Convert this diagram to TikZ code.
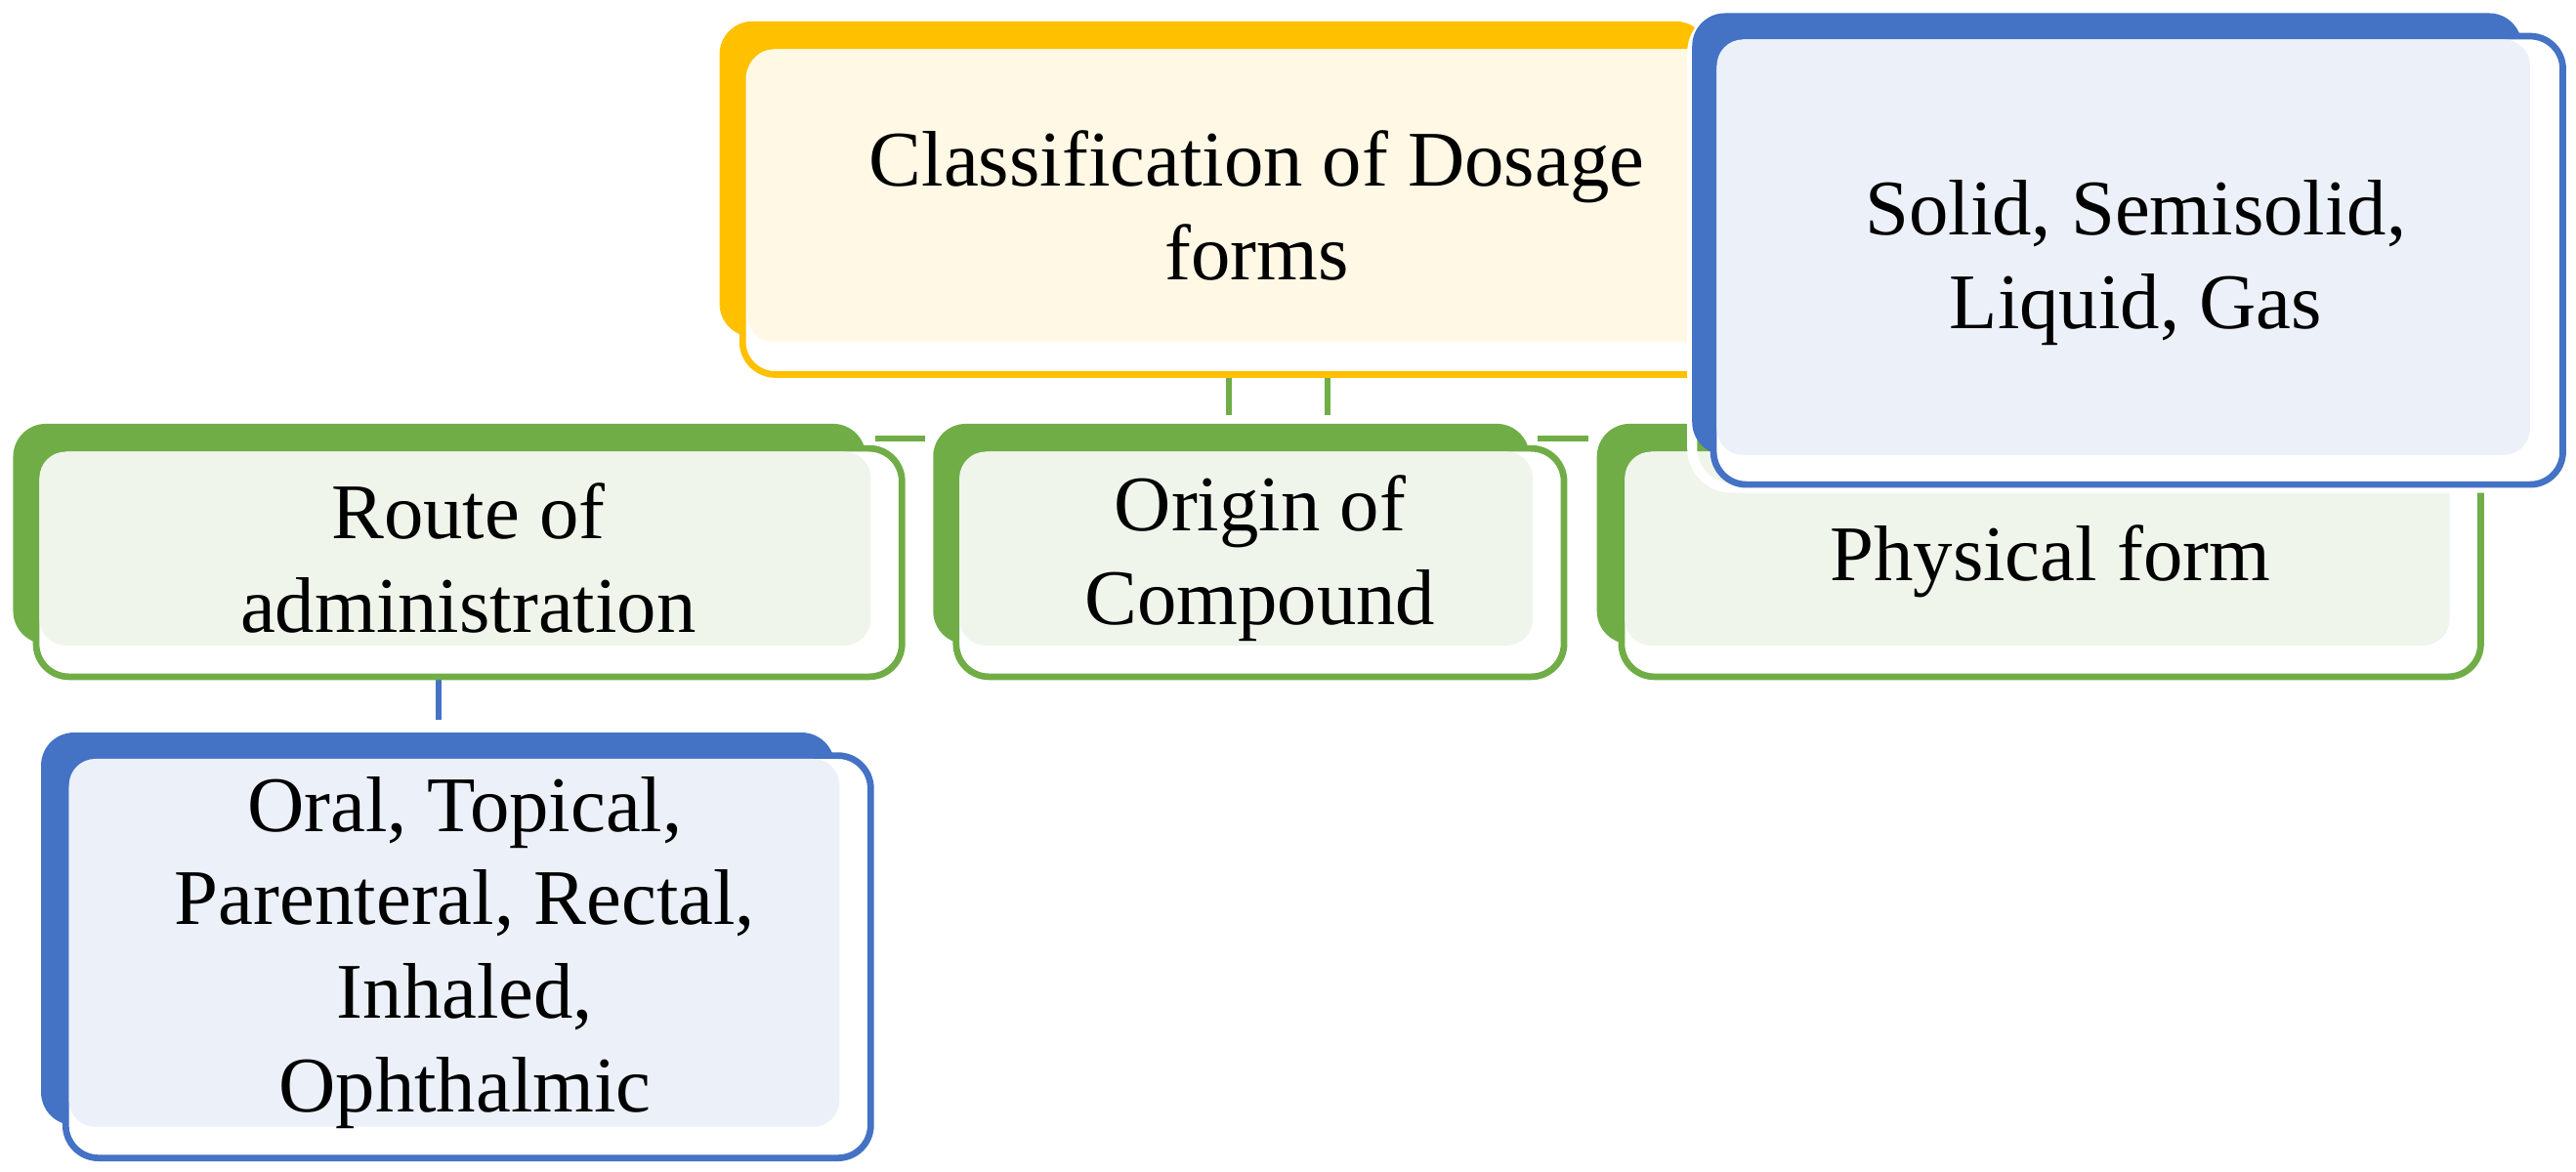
\documentclass[tikz,border=0pt]{standalone}
\usepackage{fontspec}
\setmainfont{Liberation Serif}
\begin{document}
\begin{tikzpicture}[x=1pt,y=-1pt,
  txt/.style={align=center,font=\fontsize{48}{57}\selectfont,text=black},
  conn/.style={line width=4pt}]
\definecolor{yel}{HTML}{FFC000}\definecolor{yelL}{HTML}{FFF8E5}
\definecolor{grn}{HTML}{70AD47}\definecolor{grnL}{HTML}{F0F5EC}
\definecolor{blu}{HTML}{4472C4}\definecolor{bluL}{HTML}{ECF0F9}
\useasboundingbox (0,0) rectangle (1568,713);
\newcommand\mybox[8]{%
  \fill[#1,rounded corners=20pt] (#2) rectangle (#3);
  \draw[#1,fill=white,line width=4pt,rounded corners=20pt] (#4) rectangle (#5);
  \fill[#6,rounded corners=16pt] (#7) rectangle (#8);}
% connectors
\draw[grn,conn] (748,213) -- (748,253) (808,213) -- (808,253);
\draw[grn,conn] (533,267) -- (563,267) (936,267) -- (967,267);
\draw[blu,conn] (267,398) -- (267,438);
% yellow
\mybox{yel}{438,13}{1040,205}{452,28}{1060,228}{yelL}{455,30}{1045,208}
\node[txt] (top) at (765,125) {Classification of Dosage\\forms};
% green
\mybox{grn}{8,258}{527,392}{22,273}{549,412}{grnL}{24,275}{530,393}
\node[txt] (route) at (285,340) {Route of\\administration};
\mybox{grn}{568,258}{931,392}{582,273}{952,412}{grnL}{584,275}{933,393}
\node[txt] (origin) at (767,340) {Origin of\\Compound};
\mybox{grn}{972,258}{1490,392}{987,273}{1510,412}{grnL}{989,275}{1491,393}
\node[txt] (phys) at (1248,342) {Physical form};
% blue top right
\draw[white,line width=6pt,rounded corners=24pt] (1030,8) rectangle (1562,297);
\mybox{blu}{1030,8}{1535,277}{1043,22}{1560,295}{bluL}{1045,24}{1540,277}
\node[txt] (phyd) at (1300,160) {Solid, Semisolid,\\Liquid, Gas};
% blue bottom
\mybox{blu}{25,446}{508,685}{40,460}{530,705}{bluL}{42,462}{511,686}
\node[txt] (routed) at (283,580) {Oral, Topical,\\Parenteral, Rectal,\\Inhaled,\\Ophthalmic};
\end{tikzpicture}
\end{document}
